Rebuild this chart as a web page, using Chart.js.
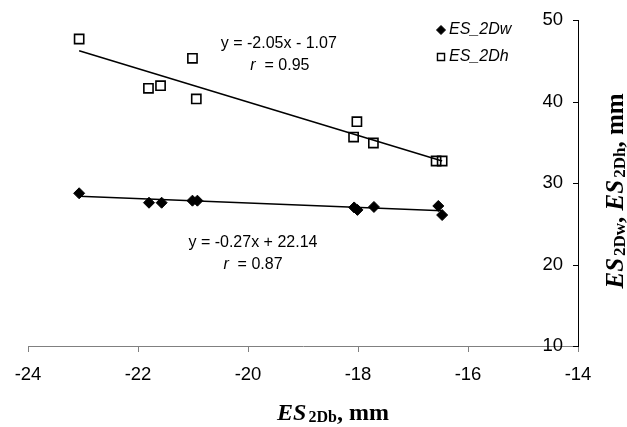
<!DOCTYPE html>
<html>
<head>
<meta charset="utf-8">
<script src="https://cdn.jsdelivr.net/npm/chart.js@4.4.1/dist/chart.umd.min.js"></script>
<style>
  html, body { margin: 0; padding: 0; background: #fff; }
</style>
</head>
<body>
<canvas id="chart" width="627" height="427"></canvas>
<script>
// ── Data ──────────────────────────────────────────────────
const xTicks = [-24, -22, -20, -18, -16, -14];
const yTicks = [10, 20, 30, 40, 50];

const dwX = [-23.07, -21.80, -21.57, -21.01, -20.92, -18.07, -18.01, -17.71, -16.54, -16.47];
const dwY = [28.74, 27.58, 27.58, 27.83, 27.83, 27.00, 26.70, 27.06, 27.18, 26.07];

const dhX = [-23.07, -21.81, -21.59, -21.01, -20.94, -18.02, -18.08, -17.72, -16.58, -16.47];
const dhY = [47.67, 41.62, 41.94, 45.30, 40.31, 37.52, 35.64, 34.91, 32.70, 32.70];

// trend line end points
const fitX = [-23.07, -16.47];
const fitDw = [28.37, 26.59];
const fitDh = [46.22, 32.69];

const eqDh = ["y = -2.05x - 1.07", " = 0.95"];
const eqDw = ["y = -0.27x + 22.14", " = 0.87"];

// ── Helpers ───────────────────────────────────────────────
const SANS = '"Liberation Sans", Arial, sans-serif';
const SERIF = '"Liberation Serif", "Times New Roman", serif';
const pts = (xs, ys) => xs.map((x, i) => ({ x, y: ys[i] }));

// draw a run of text pieces with their own fonts, centred on x
function drawRich(ctx, parts, x, y) {
  let w = 0;
  parts.forEach((p) => { ctx.font = p.font; w += ctx.measureText(p.t).width; });
  let cx = x - w / 2;
  ctx.textAlign = "left";
  ctx.textBaseline = "middle";
  parts.forEach((p) => {
    ctx.font = p.font;
    ctx.fillText(p.t, cx, y + (p.dy || 0));
    cx += ctx.measureText(p.t).width;
  });
}

// ── Extra drawing: y tick marks, titles, equations, legend ─
const decor = {
  id: "decor",
  afterDraw(chart) {
    const { ctx, chartArea, scales } = chart;
    const xs = scales.x, ys = scales.y;
    ctx.save();
    ctx.fillStyle = "#000";
    ctx.strokeStyle = "#000";
    ctx.lineWidth = 1;

    // y tick marks pointing inwards
    yTicks.forEach((v) => {
      const py = Math.round(ys.getPixelForValue(v)) + 0.5;
      ctx.beginPath();
      ctx.moveTo(chartArea.right - 5, py);
      ctx.lineTo(chartArea.right, py);
      ctx.stroke();
    });

    // x title
    let big = `bold 24px ${SERIF}`, bigI = `italic bold 24px ${SERIF}`, sub = `bold 16px ${SERIF}`;
    const gap = `bold 8px ${SERIF}`;
    drawRich(ctx, [
      { t: "ES", font: bigI }, { t: " ", font: gap },
      { t: "2Db", font: sub, dy: 4 }, { t: ", mm", font: big },
    ], 333, 414);

    // y title, rotated
    big = `bold 25px ${SERIF}`; bigI = `italic bold 25px ${SERIF}`; sub = `bold 17px ${SERIF}`;
    ctx.save();
    ctx.translate(617, 191);
    ctx.rotate(-Math.PI / 2);
    drawRich(ctx, [
      { t: "ES", font: bigI }, { t: " ", font: gap },
      { t: "2Dw", font: sub, dy: 4 }, { t: ", ", font: big },
      { t: "ES", font: bigI }, { t: " ", font: gap },
      { t: "2Dh", font: sub, dy: 4 }, { t: ", mm", font: big },
    ], 0, 0);
    ctx.restore();

    // regression equations
    const f = `16px ${SANS}`, fi = `italic 16px ${SANS}`;
    const px = (v) => xs.getPixelForValue(v), py = (v) => ys.getPixelForValue(v);
    drawRich(ctx, [{ t: eqDh[0], font: f }], px(-19.44), py(47.05));
    drawRich(ctx, [{ t: "r ", font: fi }, { t: eqDh[1], font: f }], px(-19.42), py(44.36));
    drawRich(ctx, [{ t: eqDw[0], font: f }], px(-19.91), py(22.64));
    drawRich(ctx, [{ t: "r ", font: fi }, { t: eqDw[1], font: f }], px(-19.91), py(19.94));

    // legend
    [0, 1].forEach((i) => {
      const ds = chart.data.datasets[i];
      const ly = 30 + i * 27;
      ctx.fillStyle = i === 0 ? "#000" : "#fff";
      ctx.lineWidth = i === 0 ? 1 : 1.4;
      Chart.helpers.drawPoint(ctx, { pointStyle: ds.pointStyle, radius: i === 0 ? 4.5 : 5, rotation: 0, borderWidth: ctx.lineWidth }, 441, ly);
      ctx.fillStyle = "#000";
      ctx.font = `italic 16px ${SANS}`;
      ctx.textAlign = "left";
      ctx.textBaseline = "middle";
      ctx.fillText(ds.label, 449, ly);
    });
    ctx.restore();
  },
};

// ── Chart ─────────────────────────────────────────────────
new Chart(document.getElementById("chart"), {
  type: "scatter",
  data: {
    datasets: [
      {
        label: "ES_2Dw",
        data: pts(dwX, dwY),
        pointStyle: "rectRot",
        pointRadius: 5.5,
        backgroundColor: "#000",
        borderColor: "#000",
        borderWidth: 1,
      },
      {
        label: "ES_2Dh",
        data: pts(dhX, dhY),
        pointStyle: "rect",
        pointRadius: 6.5,
        backgroundColor: "rgba(0,0,0,0)",
        borderColor: "#000",
        borderWidth: 1.6,
      },
      {
        type: "line",
        label: "fit Dw",
        data: pts(fitX, fitDw),
        borderColor: "#000",
        borderWidth: 1.5,
        pointRadius: 0,
        fill: false,
      },
      {
        type: "line",
        label: "fit Dh",
        data: pts(fitX, fitDh),
        borderColor: "#000",
        borderWidth: 1.5,
        pointRadius: 0,
        fill: false,
      },
    ],
  },
  options: {
    responsive: false,
    animation: false,
    layout: { padding: { left: 28, right: 49, top: 20, bottom: 41 } },
    plugins: { legend: { display: false }, tooltip: { enabled: false } },
    scales: {
      x: {
        type: "linear",
        min: xTicks[0],
        max: xTicks[xTicks.length - 1],
        afterBuildTicks: (s) => { s.ticks = xTicks.map((v) => ({ value: v })); },
        afterFit: (s) => { s.height = 40; },
        ticks: { color: "#000", font: { family: SANS, size: 18.5 }, padding: 12, maxRotation: 0 },
        grid: { drawOnChartArea: false, drawTicks: true, tickLength: 6, color: "#808080", tickColor: "#808080" },
        border: { color: "#808080", width: 1 },
      },
      y: {
        type: "linear",
        position: "right",
        min: yTicks[0],
        max: yTicks[yTicks.length - 1],
        afterBuildTicks: (s) => { s.ticks = yTicks.map((v) => ({ value: v })); },
        afterFit: (s) => { s.width = 0; },
        ticks: { color: "#000", font: { family: SANS, size: 18.5 }, mirror: true, padding: -15 },
        grid: { drawOnChartArea: false, drawTicks: false },
        border: { color: "#000", width: 1 },
      },
    },
  },
  plugins: [decor],
});
</script>
</body>
</html>
